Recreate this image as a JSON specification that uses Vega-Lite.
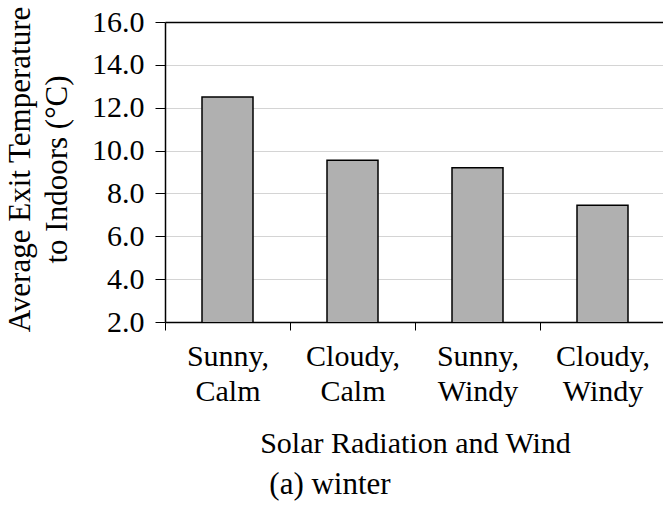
{
  "$schema": "https://vega.github.io/schema/vega-lite/v6.json",
  "autosize": "none",
  "width": 500,
  "height": 300,
  "padding": {"left": 165, "top": 22, "right": 0, "bottom": 185},
  "background": "white",
  "data": {
    "values": [
      {"condition": "Sunny, Calm", "temp": 12.5},
      {"condition": "Cloudy, Calm", "temp": 9.55},
      {"condition": "Sunny, Windy", "temp": 9.2},
      {"condition": "Cloudy, Windy", "temp": 7.45}
    ]
  },
  "title": {
    "text": "(a) winter",
    "orient": "bottom",
    "anchor": "middle",
    "dx": -85,
    "offset": 12,
    "font": "Times New Roman, Liberation Serif, serif",
    "fontSize": 31,
    "fontWeight": "normal",
    "color": "black"
  },
  "mark": {"type": "bar", "fill": "#b0b0b0", "stroke": "black", "strokeWidth": 1.5, "width": 51, "clip": true},
  "encoding": {
    "x": {
      "field": "condition",
      "type": "nominal",
      "sort": null,
      "scale": {"paddingInner": 0, "paddingOuter": 0},
      "axis": {
        "title": "Solar Radiation and Wind",
        "labelAngle": 0,
        "labelExpr": "split(datum.label, ' ')",
        "labelLineHeight": 35,
        "labelPadding": 11,
        "tickBand": "extent",
        "tickSize": 8,
        "tickColor": "black",
        "domainColor": "black",
        "domainWidth": 1.5,
        "titlePadding": 22,
        "grid": false
      }
    },
    "y": {
      "field": "temp",
      "type": "quantitative",
      "scale": {"domain": [2, 16], "zero": false, "nice": false},
      "axis": {
        "title": ["Average Exit Temperature", "to Indoors (°C)"],
        "titleFontSize": 31,
        "titleLineHeight": 37,
        "titleX": -129,
        "titleY": 147,
        "values": [2, 4, 6, 8, 10, 12, 14, 16],
        "format": ".1f",
        "tickSize": 10,
        "labelPadding": 11,
        "tickColor": "black",
        "domainColor": "black",
        "domainWidth": 1.5,
        "grid": true,
        "gridColor": {"condition": {"test": "datum.value === 16", "value": "black"}, "value": "#d4d4d4"},
        "gridWidth": {"condition": {"test": "datum.value === 16", "value": 1.5}, "value": 1}
      }
    }
  },
  "config": {
    "view": {"stroke": null},
    "font": "Times New Roman, Liberation Serif, serif",
    "axis": {
      "labelFont": "Times New Roman, Liberation Serif, serif",
      "titleFont": "Times New Roman, Liberation Serif, serif",
      "labelFontSize": 30,
      "titleFontSize": 30,
      "labelColor": "black",
      "titleColor": "black",
      "titleFontWeight": "normal"
    }
  }
}
